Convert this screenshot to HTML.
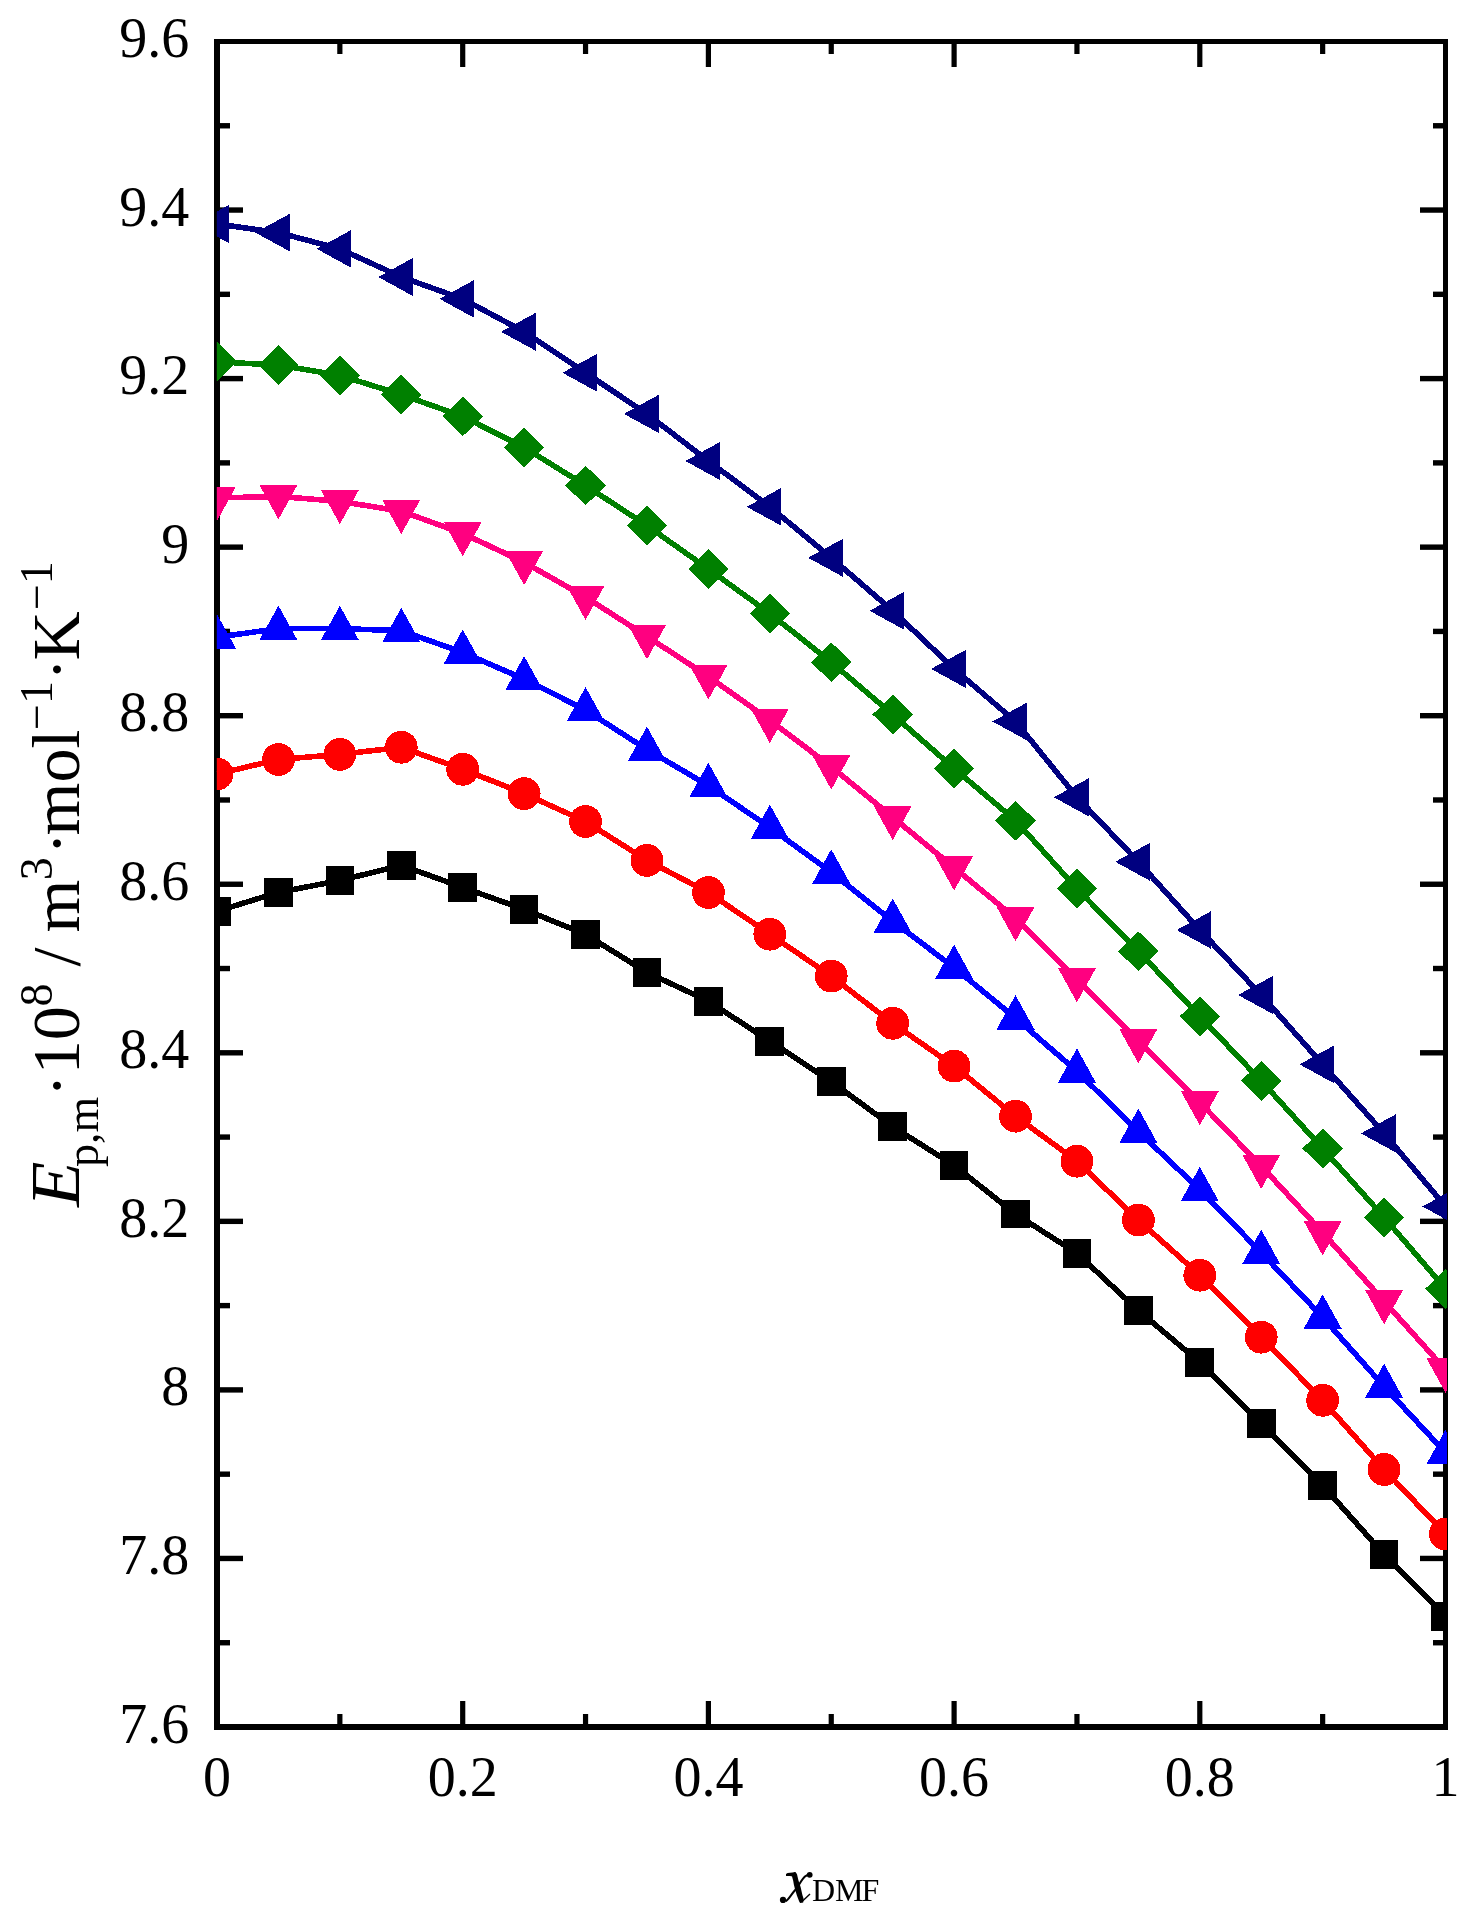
<!DOCTYPE html>
<html><head><meta charset="utf-8"><title>chart</title>
<style>html,body{margin:0;padding:0;background:#fff;overflow:hidden;}svg{display:block;}
text{font-family:"Liberation Serif",serif;}
svg{will-change:transform;}</style></head>
<body>
<svg width="1474" height="1918" viewBox="0 0 1474 1918">
<rect width="1474" height="1918" fill="#fff"/>
<defs><clipPath id="pa"><rect x="216.8" y="41.5" width="1230.2" height="1685.5"/></clipPath></defs>

<g fill="#000">
<rect x="214" y="39" width="6" height="1691"/>
<rect x="1443" y="39" width="5" height="1691"/>
<rect x="214" y="39" width="1234" height="5"/>
<rect x="214" y="1724" width="1234" height="6"/>
<rect x="220" y="1640.03" width="10" height="5.4"/>
<rect x="1433" y="1640.03" width="10" height="5.4"/>
<rect x="220" y="1555.75" width="23" height="5.4"/>
<rect x="1420" y="1555.75" width="23" height="5.4"/>
<rect x="220" y="1471.48" width="10" height="5.4"/>
<rect x="1433" y="1471.48" width="10" height="5.4"/>
<rect x="220" y="1387.2" width="23" height="5.4"/>
<rect x="1420" y="1387.2" width="23" height="5.4"/>
<rect x="220" y="1302.92" width="10" height="5.4"/>
<rect x="1433" y="1302.92" width="10" height="5.4"/>
<rect x="220" y="1218.65" width="23" height="5.4"/>
<rect x="1420" y="1218.65" width="23" height="5.4"/>
<rect x="220" y="1134.38" width="10" height="5.4"/>
<rect x="1433" y="1134.38" width="10" height="5.4"/>
<rect x="220" y="1050.1" width="23" height="5.4"/>
<rect x="1420" y="1050.1" width="23" height="5.4"/>
<rect x="220" y="965.82" width="10" height="5.4"/>
<rect x="1433" y="965.82" width="10" height="5.4"/>
<rect x="220" y="881.55" width="23" height="5.4"/>
<rect x="1420" y="881.55" width="23" height="5.4"/>
<rect x="220" y="797.28" width="10" height="5.4"/>
<rect x="1433" y="797.28" width="10" height="5.4"/>
<rect x="220" y="713" width="23" height="5.4"/>
<rect x="1420" y="713" width="23" height="5.4"/>
<rect x="220" y="628.72" width="10" height="5.4"/>
<rect x="1433" y="628.72" width="10" height="5.4"/>
<rect x="220" y="544.45" width="23" height="5.4"/>
<rect x="1420" y="544.45" width="23" height="5.4"/>
<rect x="220" y="460.18" width="10" height="5.4"/>
<rect x="1433" y="460.18" width="10" height="5.4"/>
<rect x="220" y="375.9" width="23" height="5.4"/>
<rect x="1420" y="375.9" width="23" height="5.4"/>
<rect x="220" y="291.62" width="10" height="5.4"/>
<rect x="1433" y="291.62" width="10" height="5.4"/>
<rect x="220" y="207.35" width="23" height="5.4"/>
<rect x="1420" y="207.35" width="23" height="5.4"/>
<rect x="220" y="123.07" width="10" height="5.4"/>
<rect x="1433" y="123.07" width="10" height="5.4"/>
<rect x="337.25" y="1714" width="5.2" height="10"/>
<rect x="337.25" y="44" width="5.2" height="10"/>
<rect x="460.1" y="1701" width="5.2" height="23"/>
<rect x="460.1" y="44" width="5.2" height="23"/>
<rect x="582.95" y="1714" width="5.2" height="10"/>
<rect x="582.95" y="44" width="5.2" height="10"/>
<rect x="705.8" y="1701" width="5.2" height="23"/>
<rect x="705.8" y="44" width="5.2" height="23"/>
<rect x="828.65" y="1714" width="5.2" height="10"/>
<rect x="828.65" y="44" width="5.2" height="10"/>
<rect x="951.5" y="1701" width="5.2" height="23"/>
<rect x="951.5" y="44" width="5.2" height="23"/>
<rect x="1074.35" y="1714" width="5.2" height="10"/>
<rect x="1074.35" y="44" width="5.2" height="10"/>
<rect x="1197.2" y="1701" width="5.2" height="23"/>
<rect x="1197.2" y="44" width="5.2" height="23"/>
<rect x="1320.05" y="1714" width="5.2" height="10"/>
<rect x="1320.05" y="44" width="5.2" height="10"/>
</g>
<g font-size="56" fill="#000">
<text x="189.3" y="1742.5" text-anchor="end">7.6</text>
<text x="189.3" y="1573.95" text-anchor="end">7.8</text>
<text x="189.3" y="1405.4" text-anchor="end">8</text>
<text x="189.3" y="1236.85" text-anchor="end">8.2</text>
<text x="189.3" y="1068.3" text-anchor="end">8.4</text>
<text x="189.3" y="899.75" text-anchor="end">8.6</text>
<text x="189.3" y="731.2" text-anchor="end">8.8</text>
<text x="189.3" y="562.65" text-anchor="end">9</text>
<text x="189.3" y="394.1" text-anchor="end">9.2</text>
<text x="189.3" y="225.55" text-anchor="end">9.4</text>
<text x="189.3" y="57" text-anchor="end">9.6</text>
<text x="217" y="1796" text-anchor="middle">0</text>
<text x="462.7" y="1796" text-anchor="middle">0.2</text>
<text x="708.4" y="1796" text-anchor="middle">0.4</text>
<text x="954.1" y="1796" text-anchor="middle">0.6</text>
<text x="1199.8" y="1796" text-anchor="middle">0.8</text>
<text x="1445.5" y="1796" text-anchor="middle">1</text>
</g>
<g fill="#000">
<polygon points="792.0,1874.5 794.9,1872 797.0,1874.3 798.4,1880.2 800.6,1887.1 802.4,1895.1 803.6,1898.8 803.2,1902.4 800.1,1903 799.2,1901.6 796.9,1895.6 795.1,1889.6 793.9,1884.8 793.2,1880.8 792.1,1876.8"/>
<polygon points="786,1874.1 787.6,1873.1 792.5,1872.4 795.2,1871.9 796.6,1873.6 794.2,1875.2 792.6,1876.6 790,1875.9 786,1875.9"/>
<circle cx="783" cy="1899.9" r="3.1"/>
<circle cx="809.7" cy="1874.8" r="2.9"/>
</g>
<path d="M785.5,1901.2 C788.5,1900 791,1894.5 795,1890.2 S801,1880 805.2,1876.3 L808.5,1874.3" fill="none" stroke="#000" stroke-width="2"/>
<path d="M801.5,1902 Q805,1898.8 810,1894" fill="none" stroke="#000" stroke-width="1.4"/>
<text x="812" y="1901" font-size="32">DM<tspan dx="-2">F</tspan></text>
<text transform="translate(79,1209) rotate(-90)" font-size="68"><tspan x="42" y="19" font-size="46">p,m</tspan><tspan x="112" y="0">·10</tspan><tspan x="202.5" y="-27" font-size="46">8</tspan><tspan x="225.5" y="0"> / </tspan><tspan x="276.4" y="0">m</tspan><tspan x="328.8" y="-27" font-size="46">3</tspan><tspan x="354.3" y="0">·</tspan><tspan x="373.5" y="0">mol</tspan><tspan x="479" y="-27" font-size="46">−1</tspan><tspan x="528.2" y="0">·</tspan><tspan x="548.6" y="0">K</tspan><tspan x="598.9" y="-27" font-size="46">−1</tspan></text>
<text transform="translate(79,1207.1) rotate(-90) scale(1.07,1)" font-size="69.5" font-style="italic">E</text>
<g clip-path="url(#pa)" shape-rendering="crispEdges">
<polyline points="217,911.2 278.43,892.4 339.85,880.5 401.27,865.3 462.7,887.4 524.12,909.4 585.55,934.4 646.97,972.4 708.4,1001.2 769.83,1041.2 831.25,1081.5 892.68,1126.6 954.1,1165.4 1015.52,1214 1076.95,1253.3 1138.38,1310.5 1199.8,1362.3 1261.22,1423.2 1322.65,1485.3 1384.08,1554.5 1445.5,1616.5" fill="none" stroke="#000000" stroke-width="5.6" stroke-linejoin="round"/>
<g fill="#000000">
<rect x="202.65" y="896.85" width="28.7" height="28.7"/>
<rect x="264.07" y="878.05" width="28.7" height="28.7"/>
<rect x="325.5" y="866.15" width="28.7" height="28.7"/>
<rect x="386.92" y="850.95" width="28.7" height="28.7"/>
<rect x="448.35" y="873.05" width="28.7" height="28.7"/>
<rect x="509.77" y="895.05" width="28.7" height="28.7"/>
<rect x="571.2" y="920.05" width="28.7" height="28.7"/>
<rect x="632.62" y="958.05" width="28.7" height="28.7"/>
<rect x="694.05" y="986.85" width="28.7" height="28.7"/>
<rect x="755.48" y="1026.85" width="28.7" height="28.7"/>
<rect x="816.9" y="1067.15" width="28.7" height="28.7"/>
<rect x="878.33" y="1112.25" width="28.7" height="28.7"/>
<rect x="939.75" y="1151.05" width="28.7" height="28.7"/>
<rect x="1001.17" y="1199.65" width="28.7" height="28.7"/>
<rect x="1062.6" y="1238.95" width="28.7" height="28.7"/>
<rect x="1124.03" y="1296.15" width="28.7" height="28.7"/>
<rect x="1185.45" y="1347.95" width="28.7" height="28.7"/>
<rect x="1246.88" y="1408.85" width="28.7" height="28.7"/>
<rect x="1308.3" y="1470.95" width="28.7" height="28.7"/>
<rect x="1369.73" y="1540.15" width="28.7" height="28.7"/>
<rect x="1431.15" y="1602.15" width="28.7" height="28.7"/>
</g>
<polyline points="217,774 278.43,759.5 339.85,754.4 401.27,747.3 462.7,769.3 524.12,793.6 585.55,821.5 646.97,860.4 708.4,892.5 769.83,934.2 831.25,976.1 892.68,1023.3 954.1,1066.1 1015.52,1116.2 1076.95,1161.2 1138.38,1220.1 1199.8,1275.2 1261.22,1337.2 1322.65,1400.3 1384.08,1469.5 1445.5,1534" fill="none" stroke="#FF0000" stroke-width="5.6" stroke-linejoin="round"/>
<g fill="#FF0000">
<circle cx="217" cy="774" r="16.4"/>
<circle cx="278.43" cy="759.5" r="16.4"/>
<circle cx="339.85" cy="754.4" r="16.4"/>
<circle cx="401.27" cy="747.3" r="16.4"/>
<circle cx="462.7" cy="769.3" r="16.4"/>
<circle cx="524.12" cy="793.6" r="16.4"/>
<circle cx="585.55" cy="821.5" r="16.4"/>
<circle cx="646.97" cy="860.4" r="16.4"/>
<circle cx="708.4" cy="892.5" r="16.4"/>
<circle cx="769.83" cy="934.2" r="16.4"/>
<circle cx="831.25" cy="976.1" r="16.4"/>
<circle cx="892.68" cy="1023.3" r="16.4"/>
<circle cx="954.1" cy="1066.1" r="16.4"/>
<circle cx="1015.52" cy="1116.2" r="16.4"/>
<circle cx="1076.95" cy="1161.2" r="16.4"/>
<circle cx="1138.38" cy="1220.1" r="16.4"/>
<circle cx="1199.8" cy="1275.2" r="16.4"/>
<circle cx="1261.22" cy="1337.2" r="16.4"/>
<circle cx="1322.65" cy="1400.3" r="16.4"/>
<circle cx="1384.08" cy="1469.5" r="16.4"/>
<circle cx="1445.5" cy="1534" r="16.4"/>
</g>
<polyline points="217,637.2 278.43,628.6 339.85,628.6 401.27,630.7 462.7,652.4 524.12,679 585.55,710 646.97,749.5 708.4,785.6 769.83,827.5 831.25,872.2 892.68,921.3 954.1,967.5 1015.52,1018.1 1076.95,1071.3 1138.38,1131.5 1199.8,1189.7 1261.22,1252.6 1322.65,1317.3 1384.08,1386.5 1445.5,1452.6" fill="none" stroke="#0000FF" stroke-width="5.6" stroke-linejoin="round"/>
<g fill="#0000FF">
<polygon points="217,614.3 198,648.6 236,648.6"/>
<polygon points="278.43,605.7 259.43,640 297.43,640"/>
<polygon points="339.85,605.7 320.85,640 358.85,640"/>
<polygon points="401.27,607.8 382.27,642.1 420.27,642.1"/>
<polygon points="462.7,629.5 443.7,663.8 481.7,663.8"/>
<polygon points="524.12,656.1 505.12,690.4 543.12,690.4"/>
<polygon points="585.55,687.1 566.55,721.4 604.55,721.4"/>
<polygon points="646.97,726.6 627.97,760.9 665.97,760.9"/>
<polygon points="708.4,762.7 689.4,797 727.4,797"/>
<polygon points="769.83,804.6 750.83,838.9 788.83,838.9"/>
<polygon points="831.25,849.3 812.25,883.6 850.25,883.6"/>
<polygon points="892.68,898.4 873.68,932.7 911.68,932.7"/>
<polygon points="954.1,944.6 935.1,978.9 973.1,978.9"/>
<polygon points="1015.52,995.2 996.52,1029.5 1034.53,1029.5"/>
<polygon points="1076.95,1048.4 1057.95,1082.7 1095.95,1082.7"/>
<polygon points="1138.38,1108.6 1119.38,1142.9 1157.38,1142.9"/>
<polygon points="1199.8,1166.8 1180.8,1201.1 1218.8,1201.1"/>
<polygon points="1261.22,1229.7 1242.22,1264 1280.22,1264"/>
<polygon points="1322.65,1294.4 1303.65,1328.7 1341.65,1328.7"/>
<polygon points="1384.08,1363.6 1365.08,1397.9 1403.08,1397.9"/>
<polygon points="1445.5,1429.7 1426.5,1464 1464.5,1464"/>
</g>
<polyline points="217,498 278.43,496.4 339.85,501.4 401.27,511.2 462.7,533.4 524.12,562.3 585.55,597.1 646.97,636.4 708.4,676.5 769.83,720.2 831.25,766.7 892.68,817.2 954.1,867.6 1015.52,918.3 1076.95,979.4 1138.38,1040.5 1199.8,1102.4 1261.22,1166.1 1322.65,1232.5 1384.08,1301.4 1445.5,1369.7" fill="none" stroke="#FF0080" stroke-width="5.6" stroke-linejoin="round"/>
<g fill="#FF0080">
<polygon points="217,520.9 198,486.6 236,486.6"/>
<polygon points="278.43,519.3 259.43,485 297.43,485"/>
<polygon points="339.85,524.3 320.85,490 358.85,490"/>
<polygon points="401.27,534.1 382.27,499.8 420.27,499.8"/>
<polygon points="462.7,556.3 443.7,522 481.7,522"/>
<polygon points="524.12,585.2 505.12,550.9 543.12,550.9"/>
<polygon points="585.55,620 566.55,585.7 604.55,585.7"/>
<polygon points="646.97,659.3 627.97,625 665.97,625"/>
<polygon points="708.4,699.4 689.4,665.1 727.4,665.1"/>
<polygon points="769.83,743.1 750.83,708.8 788.83,708.8"/>
<polygon points="831.25,789.6 812.25,755.3 850.25,755.3"/>
<polygon points="892.68,840.1 873.68,805.8 911.68,805.8"/>
<polygon points="954.1,890.5 935.1,856.2 973.1,856.2"/>
<polygon points="1015.52,941.2 996.52,906.9 1034.53,906.9"/>
<polygon points="1076.95,1002.3 1057.95,968 1095.95,968"/>
<polygon points="1138.38,1063.4 1119.38,1029.1 1157.38,1029.1"/>
<polygon points="1199.8,1125.3 1180.8,1091 1218.8,1091"/>
<polygon points="1261.22,1189 1242.22,1154.7 1280.22,1154.7"/>
<polygon points="1322.65,1255.4 1303.65,1221.1 1341.65,1221.1"/>
<polygon points="1384.08,1324.3 1365.08,1290 1403.08,1290"/>
<polygon points="1445.5,1392.6 1426.5,1358.3 1464.5,1358.3"/>
</g>
<polyline points="217,361.8 278.43,365.1 339.85,375.4 401.27,394.6 462.7,416.4 524.12,447.4 585.55,485.5 646.97,525.6 708.4,569 769.83,613.5 831.25,662.2 892.68,714.5 954.1,768.4 1015.52,820.6 1076.95,888.7 1138.38,951.3 1199.8,1016.4 1261.22,1080.9 1322.65,1148.5 1384.08,1217.4 1445.5,1288.7" fill="none" stroke="#008000" stroke-width="5.6" stroke-linejoin="round"/>
<g fill="#008000">
<polygon points="217,341.9 237.2,361.8 217,381.7 196.8,361.8"/>
<polygon points="278.43,345.2 298.62,365.1 278.43,385 258.23,365.1"/>
<polygon points="339.85,355.5 360.05,375.4 339.85,395.3 319.65,375.4"/>
<polygon points="401.27,374.7 421.47,394.6 401.27,414.5 381.07,394.6"/>
<polygon points="462.7,396.5 482.9,416.4 462.7,436.3 442.5,416.4"/>
<polygon points="524.12,427.5 544.33,447.4 524.12,467.3 503.93,447.4"/>
<polygon points="585.55,465.6 605.75,485.5 585.55,505.4 565.35,485.5"/>
<polygon points="646.97,505.7 667.17,525.6 646.97,545.5 626.77,525.6"/>
<polygon points="708.4,549.1 728.6,569 708.4,588.9 688.2,569"/>
<polygon points="769.83,593.6 790.03,613.5 769.83,633.4 749.62,613.5"/>
<polygon points="831.25,642.3 851.45,662.2 831.25,682.1 811.05,662.2"/>
<polygon points="892.68,694.6 912.88,714.5 892.68,734.4 872.48,714.5"/>
<polygon points="954.1,748.5 974.3,768.4 954.1,788.3 933.9,768.4"/>
<polygon points="1015.52,800.7 1035.72,820.6 1015.52,840.5 995.32,820.6"/>
<polygon points="1076.95,868.8 1097.15,888.7 1076.95,908.6 1056.75,888.7"/>
<polygon points="1138.38,931.4 1158.58,951.3 1138.38,971.2 1118.17,951.3"/>
<polygon points="1199.8,996.5 1220,1016.4 1199.8,1036.3 1179.6,1016.4"/>
<polygon points="1261.22,1061 1281.42,1080.9 1261.22,1100.8 1241.02,1080.9"/>
<polygon points="1322.65,1128.6 1342.85,1148.5 1322.65,1168.4 1302.45,1148.5"/>
<polygon points="1384.08,1197.5 1404.28,1217.4 1384.08,1237.3 1363.88,1217.4"/>
<polygon points="1445.5,1268.8 1465.7,1288.7 1445.5,1308.6 1425.3,1288.7"/>
</g>
<polyline points="217,224 278.43,232.6 339.85,248.9 401.27,277 462.7,298.9 524.12,331.8 585.55,372.8 646.97,413.9 708.4,461 769.83,506.8 831.25,557.8 892.68,610.8 954.1,668.9 1015.52,721.5 1076.95,797.3 1138.38,861.8 1199.8,930 1261.22,995 1322.65,1064.4 1384.08,1133.4 1445.5,1206.5" fill="none" stroke="#000080" stroke-width="5.6" stroke-linejoin="round"/>
<g fill="#000080">
<polygon points="193.9,224 228.6,205 228.6,243"/>
<polygon points="255.33,232.6 290.03,213.6 290.03,251.6"/>
<polygon points="316.75,248.9 351.45,229.9 351.45,267.9"/>
<polygon points="378.17,277 412.88,258 412.88,296"/>
<polygon points="439.6,298.9 474.3,279.9 474.3,317.9"/>
<polygon points="501.02,331.8 535.73,312.8 535.73,350.8"/>
<polygon points="562.45,372.8 597.15,353.8 597.15,391.8"/>
<polygon points="623.87,413.9 658.57,394.9 658.57,432.9"/>
<polygon points="685.3,461 720,442 720,480"/>
<polygon points="746.73,506.8 781.43,487.8 781.43,525.8"/>
<polygon points="808.15,557.8 842.85,538.8 842.85,576.8"/>
<polygon points="869.58,610.8 904.28,591.8 904.28,629.8"/>
<polygon points="931,668.9 965.7,649.9 965.7,687.9"/>
<polygon points="992.42,721.5 1027.12,702.5 1027.12,740.5"/>
<polygon points="1053.85,797.3 1088.55,778.3 1088.55,816.3"/>
<polygon points="1115.28,861.8 1149.97,842.8 1149.97,880.8"/>
<polygon points="1176.7,930 1211.4,911 1211.4,949"/>
<polygon points="1238.12,995 1272.82,976 1272.82,1014"/>
<polygon points="1299.55,1064.4 1334.25,1045.4 1334.25,1083.4"/>
<polygon points="1360.98,1133.4 1395.67,1114.4 1395.67,1152.4"/>
<polygon points="1422.4,1206.5 1457.1,1187.5 1457.1,1225.5"/>
</g>
</g>
</svg>
</body></html>
